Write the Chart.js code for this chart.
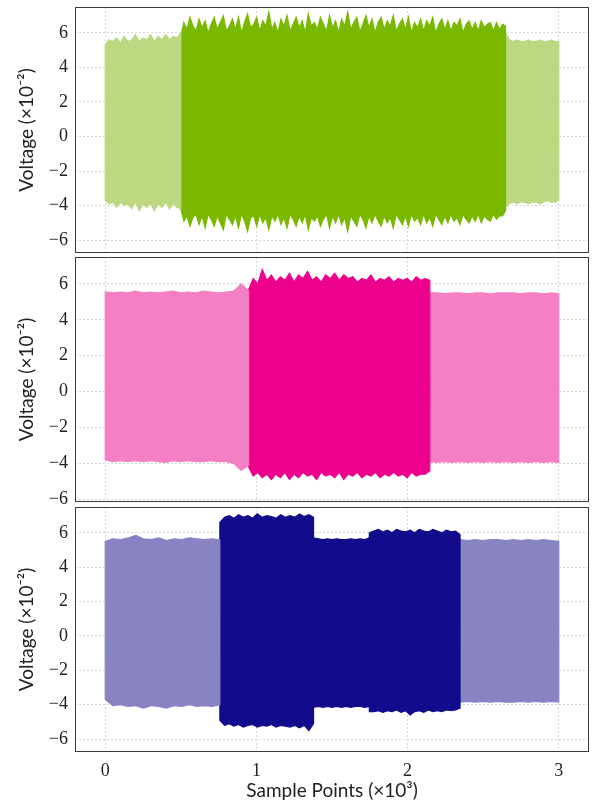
<!DOCTYPE html>
<html>
<head>
<meta charset="utf-8">
<script src="https://cdn.jsdelivr.net/npm/chart.js@4.4.1/dist/chart.umd.min.js"></script>
<style>
html, body { margin: 0; padding: 0; background: #fff; }
#wrap { position: relative; width: 592px; height: 804px; }
canvas { position: absolute; left: 0; }
</style>
</head>
<body>
<div id="wrap">
  <canvas id="c1" width="592" height="256" style="top:0px"></canvas>
  <canvas id="c2" width="592" height="248" style="top:256px"></canvas>
  <canvas id="c3" width="592" height="300" style="top:504px"></canvas>
</div>
<script>
// tick labels
const xTicks = [0, 1, 2, 3];
const yTicks = [-6, -4, -2, 0, 2, 4, 6];

// segment bounds (x10^3 samples)
const greenBounds = [0, 0.5, 2.648, 3.0];
const pinkBounds = [0, 0.949, 2.147, 3.0];
const blueBounds = [0, 0.758, 1.378, 1.747, 2.347, 3.0];

// panel 1 envelopes (x10^-2 V)
const greenUpA = [5.3,5.6,5.5,5.7,5.4,5.8,5.5,5.6,5.9,5.5,5.7,5.6,5.9,5.5,5.8,5.6,5.9,5.6,5.8,5.7,6.0];
const greenLowA = [-3.7,-3.9,-3.8,-4.1,-3.8,-4.0,-3.9,-4.2,-3.8,-4.3,-3.9,-4.1,-3.9,-4.3,-3.9,-4.1,-3.8,-4.2,-3.9,-4.1,-4.2];
const greenUpB = [5.8,6.6,6.2,6.9,6.4,6.1,6.8,6.3,6.7,6.0, 6.5,6.9,6.2,6.6,7.0,6.1,6.4,6.8,6.2,6.9,
                  6.0,6.6,7.1,6.3,6.5,6.9,6.1,6.7,6.4,7.2, 6.2,6.6,6.0,6.8,6.4,7.0,6.1,6.5,6.9,6.3,
                  6.7,6.0,7.1,6.4,6.6,6.2,6.9,6.5,6.1,7.0, 6.3,6.7,6.0,6.8,6.4,7.2,6.2,6.6,6.9,6.1,
                  6.5,7.0,6.3,6.8,6.0,6.6,6.9,6.2,6.7,6.4, 7.0,6.1,6.5,6.8,6.2,6.9,6.0,6.6,6.3,6.8,
                  6.1,6.7,6.4,6.9,6.0,6.5,6.8,6.2,6.7,6.1, 6.6,6.4,6.8,6.0,6.5,6.7,6.2,6.6,6.1,6.7,
                  6.3,6.5,6.6,6.1,6.6,6.2,6.5,6.4];
const greenLowB = [-4.2,-4.9,-4.6,-5.2,-4.7,-4.5,-5.1,-4.6,-5.3,-4.5, -4.8,-5.2,-4.6,-5.0,-5.4,-4.5,-4.8,-5.1,-4.6,-5.3,
                   -4.5,-4.9,-5.5,-4.7,-4.6,-5.2,-4.5,-5.0,-4.7,-5.4, -4.6,-4.9,-4.5,-5.1,-4.7,-5.3,-4.5,-4.8,-5.2,-4.6,
                   -5.0,-4.5,-5.4,-4.7,-4.9,-4.6,-5.2,-4.8,-4.5,-5.3, -4.6,-5.0,-4.5,-5.1,-4.7,-5.5,-4.6,-4.9,-5.2,-4.5,
                   -4.8,-5.3,-4.6,-5.0,-4.5,-4.9,-5.2,-4.6,-5.0,-4.7, -5.3,-4.5,-4.8,-5.1,-4.6,-5.2,-4.5,-4.9,-4.7,-5.1,
                   -4.5,-5.0,-4.7,-5.2,-4.5,-4.8,-5.1,-4.6,-5.0,-4.5, -4.9,-4.7,-5.1,-4.5,-4.8,-5.0,-4.6,-4.9,-4.5,-5.0,
                   -4.6,-4.8,-4.9,-4.5,-4.8,-4.6,-4.6,-4.3];
const greenUpC = [6.0,5.6,5.5,5.6,5.5,5.5,5.6,5.5,5.5,5.6,5.5,5.5,5.6,5.5,5.5];
const greenLowC = [-4.1,-3.9,-3.8,-3.9,-3.8,-3.8,-3.9,-3.8,-3.8,-3.9,-3.8,-3.7,-3.8,-3.8,-3.7];

// panel 2
const pinkUpA = [5.55,5.5,5.55,5.5,5.6,5.5,5.55,5.5,5.55,5.6,5.5,5.55,5.5,5.6,5.55,5.5,5.55,5.6,6.0,5.6];
const pinkLowA = [-3.8,-3.9,-3.85,-3.9,-3.85,-3.9,-3.85,-3.9,-3.95,-3.85,-3.9,-3.85,-3.9,-3.9,-3.85,-3.9,-3.9,-4.0,-4.4,-4.1];
const pinkUpB = [5.7,6.3,6.0,6.8,6.2,6.5,6.1,6.4,6.2,6.6,6.1,6.5,6.3,6.7,6.2,6.4,6.1,6.5,6.3,6.6,6.2,6.5,6.3,6.4,6.1,6.3,6.2,6.5,6.1,6.3,6.2,6.4,6.1,6.3,6.2,6.3,6.1,6.4,6.2,6.3,6.2];
const pinkLowB = [-4.2,-4.7,-4.5,-4.8,-4.6,-4.9,-4.6,-4.8,-4.5,-4.9,-4.6,-4.8,-4.5,-4.7,-4.6,-4.9,-4.5,-4.7,-4.6,-4.8,-4.5,-4.9,-4.6,-4.7,-4.5,-4.8,-4.6,-4.7,-4.5,-4.8,-4.6,-4.7,-4.5,-4.7,-4.6,-4.8,-4.5,-4.7,-4.6,-4.6,-4.4];
const pinkUpC = [5.5,5.5,5.45,5.5,5.5,5.45,5.5,5.5,5.45,5.5,5.5,5.5,5.45,5.5,5.5,5.45,5.5,5.45];
const pinkLowC = [-3.9,-3.95,-3.9,-3.95,-3.9,-3.95,-3.9,-3.95,-3.9,-3.95,-3.9,-3.95,-3.9,-3.95,-3.9,-3.95,-3.9,-3.95];

// panel 3
const blueUpA = [5.5,5.65,5.6,5.7,5.85,5.65,5.6,5.7,5.55,5.65,5.6,5.7,5.65,5.6,5.65,5.6];
const blueLowA = [-3.7,-4.05,-4.0,-4.1,-4.05,-4.2,-4.05,-4.1,-4.2,-4.05,-4.1,-4.0,-4.1,-4.05,-4.1,-4.0];
const blueUpB = [6.6,6.9,7.0,6.85,7.05,6.9,7.0,6.85,7.1,6.9,7.0,6.95,6.85,7.05,6.9,7.0,6.9,7.1,6.95,7.05,6.9];
const blueLowB = [-4.9,-5.2,-5.1,-5.25,-5.15,-5.3,-5.2,-5.15,-5.3,-5.2,-5.25,-5.15,-5.3,-5.2,-5.25,-5.3,-5.2,-5.35,-5.2,-5.5,-5.1];
const blueUpC = [5.7,5.65,5.6,5.65,5.6,5.65,5.6,5.6,5.65,5.6,5.65,5.6,5.7];
const blueLowC = [-4.15,-4.1,-4.15,-4.1,-4.15,-4.1,-4.15,-4.1,-4.15,-4.1,-4.1,-4.15,-4.1];
const blueUpD = [6.0,6.1,6.2,6.05,6.15,6.0,6.2,6.1,6.05,6.15,6.0,6.2,6.1,6.05,6.2,6.1,6.0,6.15,6.05,6.1,5.9];
const blueLowD = [-4.4,-4.4,-4.35,-4.45,-4.35,-4.4,-4.3,-4.45,-4.35,-4.6,-4.4,-4.35,-4.45,-4.3,-4.4,-4.35,-4.4,-4.3,-4.35,-4.3,-4.2];
const blueUpE = [5.6,5.55,5.6,5.55,5.6,5.6,5.55,5.6,5.55,5.6,5.55,5.6,5.55,5.5];
const blueLowE = [-3.85,-3.8,-3.85,-3.8,-3.85,-3.8,-3.85,-3.85,-3.8,-3.85,-3.8,-3.85,-3.8,-3.85];

const green = ['#bcd982', '#7ab800'];
const pink = ['#f47fc4', '#ec008c'];
const blue = ['#8884c4', '#120c8c'];

// spread the values evenly over a segment
function pts(x0, x1, vals) {
    return vals.map((v, i) => ({ x: x0 + i * (x1 - x0) / (vals.length - 1), y: v }));
}

// two fills (upper down past 0, lower up past 0) give the band;
// the end points close each side so the stroke hides seams between segments
function band(x0, x1, up, low, color) {
    const base = { borderColor: color, backgroundColor: color, borderWidth: 1.2, pointRadius: 0, tension: 0 };
    return [
        Object.assign({ data: [{ x: x0, y: 0 }].concat(pts(x0, x1, up), [{ x: x1, y: 0 }]), fill: { value: -1 } }, base),
        Object.assign({ data: [{ x: x0, y: 0 }].concat(pts(x0, x1, low), [{ x: x1, y: 0 }]), fill: { value: 1 } }, base)
    ];
}

const boxPlugin = {
    id: 'box',
    afterDraw(chart) {
        const a = chart.chartArea, ctx = chart.ctx;
        ctx.save();
        ctx.strokeStyle = '#3a3a3a';
        ctx.lineWidth = 1;
        ctx.strokeRect(Math.round(a.left) + 0.5, Math.round(a.top) + 0.5,
            Math.round(a.right - a.left) - 1, Math.round(a.bottom - a.top) - 1);
        ctx.restore();
    }
};

const serif = "'Liberation Serif', serif";
const sans = "Lato, 'Open Sans', sans-serif";

function noPad(s) {
    s.paddingTop = 0; s.paddingBottom = 0; s.paddingLeft = 0; s.paddingRight = 0;
}

function crearPanel(id, datasets, yMin, padTop, padBottom, lastPanel) {
    return new Chart(document.getElementById(id), {
        type: 'line',
        data: { datasets: datasets },
        plugins: [boxPlugin],
        options: {
            responsive: false,
            animation: false,
            devicePixelRatio: 1,
            layout: { padding: { top: padTop, bottom: padBottom, left: 0, right: 3 } },
            plugins: { legend: { display: false }, tooltip: { enabled: false } },
            scales: {
                x: {
                    type: 'linear',
                    min: -0.2,
                    max: 3.2,
                    afterBuildTicks: s => { s.ticks = xTicks.map(v => ({ value: v })); },
                    afterFit: s => { s.height = lastPanel ? 52 : 0; noPad(s); },
                    grid: { color: '#d6d6d6', drawTicks: false },
                    border: { display: false, dash: [2, 2] },
                    ticks: {
                        display: lastPanel,
                        padding: 8,
                        color: '#222',
                        font: { family: serif, size: 18 }
                    },
                    title: {
                        display: lastPanel,
                        text: 'Sample Points (×10³)',
                        color: '#222',
                        font: { family: sans, size: 19 },
                        padding: { top: 0, bottom: 2 }
                    }
                },
                y: {
                    min: yMin,
                    max: 7.5,
                    afterBuildTicks: s => { s.ticks = yTicks.map(v => ({ value: v })); },
                    afterFit: s => { s.width = 75; noPad(s); },
                    grid: { color: '#d6d6d6', drawTicks: false },
                    border: { display: false, dash: [2, 2] },
                    ticks: {
                        padding: 7,
                        color: '#222',
                        font: { family: serif, size: 18 },
                        callback: v => v < 0 ? '\u2212' + Math.abs(v) : String(v)
                    },
                    title: {
                        display: true,
                        text: 'Voltage (×10⁻²)',
                        color: '#222',
                        font: { family: sans, size: 19 },
                        padding: { top: 15, bottom: 0 }
                    }
                }
            }
        }
    });
}

crearPanel('c1', [].concat(
    band(greenBounds[0], greenBounds[1], greenUpA, greenLowA, green[0]),
    band(greenBounds[1], greenBounds[2], greenUpB, greenLowB, green[1]),
    band(greenBounds[2], greenBounds[3], greenUpC, greenLowC, green[0])
), -6.75, 7, 3, false);

crearPanel('c2', [].concat(
    band(pinkBounds[0], pinkBounds[1], pinkUpA, pinkLowA, pink[0]),
    band(pinkBounds[1], pinkBounds[2], pinkUpB, pinkLowB, pink[1]),
    band(pinkBounds[2], pinkBounds[3], pinkUpC, pinkLowC, pink[0])
), -6.15, 1, 2, false);

crearPanel('c3', [].concat(
    band(blueBounds[0], blueBounds[1], blueUpA, blueLowA, blue[0]),
    band(blueBounds[1], blueBounds[2], blueUpB, blueLowB, blue[1]),
    band(blueBounds[2], blueBounds[3], blueUpC, blueLowC, blue[1]),
    band(blueBounds[3], blueBounds[4], blueUpD, blueLowD, blue[1]),
    band(blueBounds[4], blueBounds[5], blueUpE, blueLowE, blue[0])
), -6.75, 3, 0, true);
</script>
</body>
</html>
